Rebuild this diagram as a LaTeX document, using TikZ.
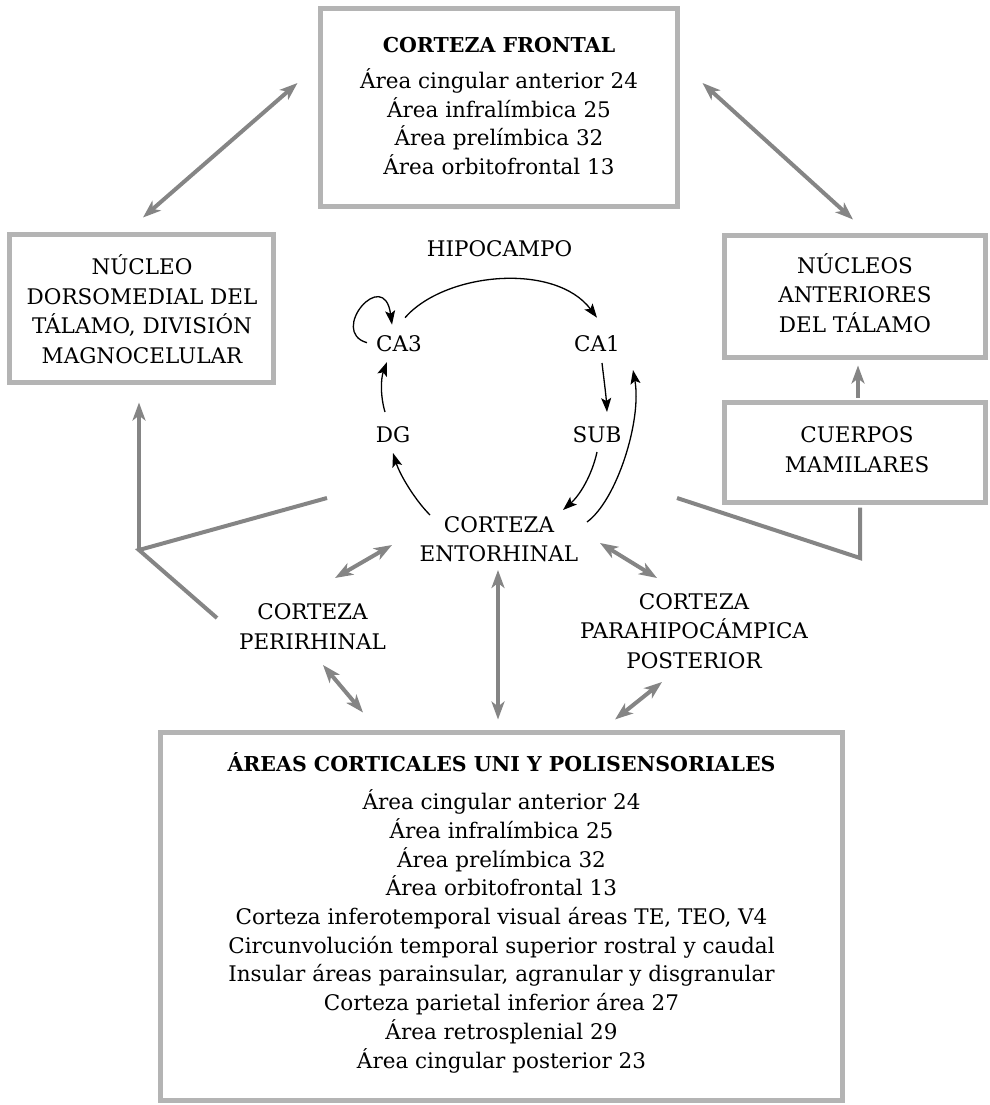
\documentclass[tikz,border=0pt]{standalone}
\usepackage{fontspec}
\setmainfont{DejaVu Serif}
\usetikzlibrary{arrows.meta,calc}
\definecolor{boxgray}{RGB}{180,180,180}
\definecolor{arrowgray}{RGB}{133,133,133}
\newcommand{\boxtitle}[1]{{\fontsize{20.5}{28.7}\selectfont\bfseries #1}}
\begin{document}
\begin{tikzpicture}[x=1pt,y=-1pt,
  boxframe/.style={draw=boxgray, line width=5pt, fill=white, inner sep=0pt},
  txt/.style={font=\fontsize{21.5}{29.5}\selectfont, align=center, inner sep=0pt, anchor=base},
  lst/.style={font=\fontsize{21.5}{28.7}\selectfont, align=center, inner sep=0pt, anchor=base},
  garrow/.style={draw=arrowgray, line width=4pt, >={Stealth[length=18pt,width=13pt,inset=5pt]}, <->},
  garrowone/.style={draw=arrowgray, line width=4pt, >={Stealth[length=18pt,width=13pt,inset=5pt]}, ->},
  gline/.style={draw=arrowgray, line width=4pt},
  barrow/.style={draw=black, line width=1.3pt, >={Stealth[length=14pt,width=10pt,inset=3pt]}, ->},
]
\useasboundingbox (0,0) rectangle (989,1105);

% boxes (text nodes anchored at the baseline of their last line)
\node[boxframe, minimum width=357pt, minimum height=198pt] (frontalbox) at (499,107.5) {};
\node[lst] (frontal) at (499,174.5) {\boxtitle{CORTEZA FRONTAL}\\[7pt]Área cingular anterior 24\\Área infralímbica 25\\Área prelímbica 32\\Área orbitofrontal 13};

\node[boxframe, minimum width=264pt, minimum height=148pt] (dorsobox) at (141.5,308.5) {};
\node[txt] (dorso) at (142,363) {NÚCLEO\\DORSOMEDIAL DEL\\TÁLAMO, DIVISIÓN\\MAGNOCELULAR};

\node[boxframe, minimum width=261pt, minimum height=122pt] (anterbox) at (855,296.5) {};
\node[txt] (anter) at (855,332) {NÚCLEOS\\ANTERIORES\\DEL TÁLAMO};

\node[boxframe, minimum width=261pt, minimum height=100pt] (mamibox) at (855,452.5) {};
\node[txt] (mami) at (857,472) {CUERPOS\\MAMILARES};

\node[boxframe, minimum width=682pt, minimum height=368pt] (areasbox) at (501.5,916.5) {};
\node[lst] (areas) at (501.5,1068) {\boxtitle{ÁREAS CORTICALES UNI Y POLISENSORIALES}\\[9.6pt]Área cingular anterior 24\\Área infralímbica 25\\Área prelímbica 32\\Área orbitofrontal 13\\Corteza inferotemporal visual áreas TE, TEO, V4\\Circunvolución temporal superior rostral y caudal\\Insular áreas parainsular, agranular y disgranular\\Corteza parietal inferior área 27\\Área retrosplenial 29\\Área cingular posterior 23};

% hippocampus labels
\node[txt] (hipo) at (499.5,256) {HIPOCAMPO};
\node[txt] (ca3) at (399,351.7) {CA3};
\node[txt] (ca1) at (597,351.7) {CA1};
\node[txt] (dg) at (393,442) {DG};
\node[txt] (sub) at (597,442) {SUB};
\node[txt] (ento) at (499,561.7) {CORTEZA\\ENTORHINAL};
\node[txt] (peri) at (312.5,649) {CORTEZA\\PERIRHINAL};
\node[txt] (para) at (694,668) {CORTEZA\\PARAHIPOCÁMPICA\\POSTERIOR};

% black hippocampal arrows
\draw[barrow] ($(ca3.base)+(-32,-9)$) .. controls ($(ca3.base)+(-71,-20)$) and ($(ca3.base)+(-15,-86)$) .. ($(ca3.base)+(-7,-27)$);
\draw[barrow] ($(ca3.base)+(6,-34)$) .. controls ($(ca3.base)+(46,-79.7)$) and ($(ca1.base)+(-42,-89.7)$) .. ($(ca1.base)+(0,-34)$);
\draw[barrow] ($(dg.base)+(-8,-30)$) .. controls ($(dg.base)+(-13,-47)$) and ($(ca3.base)+(-18,26.3)$) .. ($(ca3.base)+(-12,10.3)$);
\draw[barrow] ($(ca1.base)+(5,11.3)$) .. controls ($(ca1.base)+(7,28.3)$) and ($(sub.base)+(9,-47)$) .. ($(sub.base)+(10,-30)$);
\draw[barrow] ($(sub.base)+(0,10)$) .. controls ($(sub.base)+(-5,33)$) and ($(ento.base)+(81,-66.7)$) .. ($(ento.base)+(64,-51.7)$);
\draw[barrow] ($(ento.base)+(88,-39.7)$) .. controls ($(ento.base)+(118,-61.7)$) and ($(ca1.base)+(45,68.3)$) .. ($(ca1.base)+(36,18.3)$);
\draw[barrow] ($(ento.base)+(-69,-46.7)$) .. controls ($(ento.base)+(-84,-61.7)$) and ($(dg.base)+(7,33)$) .. ($(dg.base)+(0,11)$);

% gray double arrows
\draw[garrow] ($(dorsobox.north)+(1.5,-14.5)$) -- ($(frontalbox.west)+(-20.5,-24.5)$);
\draw[garrow] ($(frontalbox.east)+(22.5,-24.5)$) -- ($(anterbox.north)+(-2,-13.5)$);
\draw[garrow] ($(peri.base)+(22.5,-71)$) -- ($(ento.base)+(-107,-16.7)$);
\draw[garrow] ($(peri.base)+(10.5,16)$) -- ($(areasbox.north)+(-138.5,-17.5)$);
\draw[garrow] ($(ento.base)+(-1,8.3)$) -- ($(areasbox.north)+(-3.5,-10.5)$);
\draw[garrow] ($(ento.base)+(101,-18.7)$) -- ($(para.base)+(-37,-90)$);
\draw[garrow] ($(para.base)+(-32,14)$) -- ($(areasbox.north)+(113.5,-10.5)$);

% gray single arrows and lines
\draw[garrowone] ($(mamibox.north)+(3,-2.5)$) -- ($(anterbox.south)+(3,5.5)$);
\coordinate (lcorner) at (139,550);
\draw[garrowone] (lcorner) -- ($(dorsobox.south)+(-2.5,17.5)$);
\draw[gline] ($(ento.base)+(-172,-63.7)$) -- (lcorner) -- ($(peri.base)+(-95.5,-31)$);
\coordinate (rcorner) at (860,558);
\draw[gline] ($(ento.base)+(178,-63.7)$) -- (rcorner) -- ($(mamibox.south)+(5,2.5)$);
\end{tikzpicture}
\end{document}
